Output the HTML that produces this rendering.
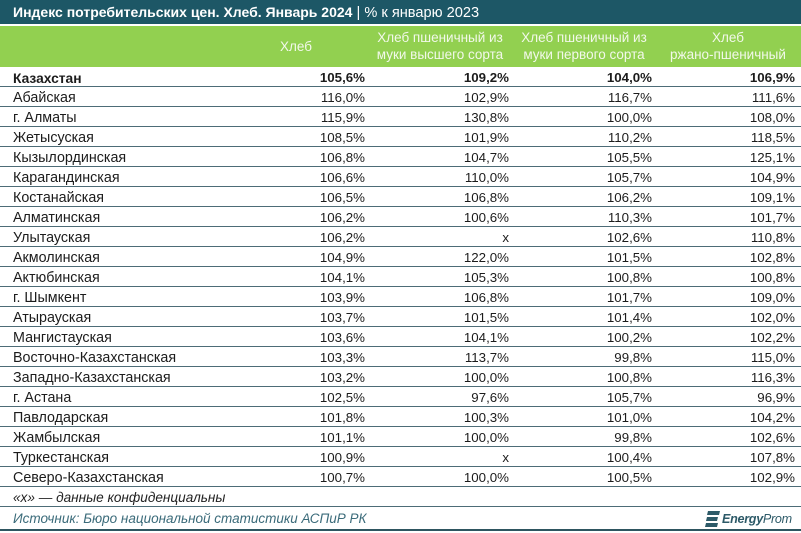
<!DOCTYPE html>
<html><head><meta charset="utf-8">
<style>
*{margin:0;padding:0;box-sizing:border-box}
body{width:801px;height:533px;background:#fff;position:relative;overflow:hidden;font-family:"Liberation Sans","DejaVu Sans",sans-serif;color:#1c1c1c}
.title{position:absolute;left:0;top:0;width:801px;height:24px;background:#1d5766;color:#fff;font-size:14px;line-height:25px;padding-left:13px;white-space:nowrap}
.title b{font-weight:bold}
.title i{font-style:normal;font-size:14.6px}
.hdr{position:absolute;left:0;top:26px;width:801px;height:41px;background:#92d050}
.h{position:absolute;color:#f2f8ea;font-size:13.5px;line-height:17px;text-align:center;white-space:nowrap}
.row{position:absolute;left:0;width:801px;height:20px;border-bottom:1px solid #4d6c77}
.row span{position:absolute;top:1px;line-height:19px;white-space:nowrap}
.row .n{top:2px}
.n{left:13px;font-size:14.3px}
.v{font-size:13.3px;text-align:right;width:100px}
.c1{left:265px}.c2{left:409px}.c3{left:552px}.c4{left:695px}
.bold span{font-weight:bold}
.bold .n{font-size:13.8px}
.foot{position:absolute;left:0;top:487px;width:801px;height:20px;border-bottom:1px solid #4d6c77;font-style:italic;font-size:13.6px;line-height:21px;padding-left:13px;color:#222}
.src{position:absolute;left:0;top:507px;width:801px;height:24px;border-bottom:2px solid #2e5560;font-style:italic;font-size:13.5px;line-height:24px;padding-left:13px;color:#3b6b7a}
.logo{position:absolute;left:703px;top:510px;height:18px;white-space:nowrap}
.logo .t{position:absolute;left:19px;top:0;font-style:italic;font-size:12.6px;line-height:18px;color:#2d5a68;letter-spacing:-0.3px}
</style></head><body>
<div class="title"><b>Индекс потребительских цен. Хлеб. Январь 2024</b><i> | % к январю 2023</i></div>
<div class="hdr"></div>
<div class="h" style="left:224px;width:144px;top:38px;">Хлеб</div>
<div class="h" style="left:368px;width:144px;top:29px;">Хлеб пшеничный из<br>муки высшего сорта</div>
<div class="h" style="left:512px;width:144px;top:29px;">Хлеб пшеничный из<br>муки первого сорта</div>
<div class="h" style="left:656px;width:144px;top:29px;">Хлеб<br>ржано-пшеничный</div>

<div class="row bold" style="top:67px"><span class="n">Казахстан</span><span class="v c1">105,6%</span><span class="v c2">109,2%</span><span class="v c3">104,0%</span><span class="v c4">106,9%</span></div>
<div class="row" style="top:87px"><span class="n">Абайская</span><span class="v c1">116,0%</span><span class="v c2">102,9%</span><span class="v c3">116,7%</span><span class="v c4">111,6%</span></div>
<div class="row" style="top:107px"><span class="n">г. Алматы</span><span class="v c1">115,9%</span><span class="v c2">130,8%</span><span class="v c3">100,0%</span><span class="v c4">108,0%</span></div>
<div class="row" style="top:127px"><span class="n">Жетысуская</span><span class="v c1">108,5%</span><span class="v c2">101,9%</span><span class="v c3">110,2%</span><span class="v c4">118,5%</span></div>
<div class="row" style="top:147px"><span class="n">Кызылординская</span><span class="v c1">106,8%</span><span class="v c2">104,7%</span><span class="v c3">105,5%</span><span class="v c4">125,1%</span></div>
<div class="row" style="top:167px"><span class="n">Карагандинская</span><span class="v c1">106,6%</span><span class="v c2">110,0%</span><span class="v c3">105,7%</span><span class="v c4">104,9%</span></div>
<div class="row" style="top:187px"><span class="n">Костанайская</span><span class="v c1">106,5%</span><span class="v c2">106,8%</span><span class="v c3">106,2%</span><span class="v c4">109,1%</span></div>
<div class="row" style="top:207px"><span class="n">Алматинская</span><span class="v c1">106,2%</span><span class="v c2">100,6%</span><span class="v c3">110,3%</span><span class="v c4">101,7%</span></div>
<div class="row" style="top:227px"><span class="n">Улытауская</span><span class="v c1">106,2%</span><span class="v c2">x</span><span class="v c3">102,6%</span><span class="v c4">110,8%</span></div>
<div class="row" style="top:247px"><span class="n">Акмолинская</span><span class="v c1">104,9%</span><span class="v c2">122,0%</span><span class="v c3">101,5%</span><span class="v c4">102,8%</span></div>
<div class="row" style="top:267px"><span class="n">Актюбинская</span><span class="v c1">104,1%</span><span class="v c2">105,3%</span><span class="v c3">100,8%</span><span class="v c4">100,8%</span></div>
<div class="row" style="top:287px"><span class="n">г. Шымкент</span><span class="v c1">103,9%</span><span class="v c2">106,8%</span><span class="v c3">101,7%</span><span class="v c4">109,0%</span></div>
<div class="row" style="top:307px"><span class="n">Атырауская</span><span class="v c1">103,7%</span><span class="v c2">101,5%</span><span class="v c3">101,4%</span><span class="v c4">102,0%</span></div>
<div class="row" style="top:327px"><span class="n">Мангистауская</span><span class="v c1">103,6%</span><span class="v c2">104,1%</span><span class="v c3">100,2%</span><span class="v c4">102,2%</span></div>
<div class="row" style="top:347px"><span class="n">Восточно-Казахстанская</span><span class="v c1">103,3%</span><span class="v c2">113,7%</span><span class="v c3">99,8%</span><span class="v c4">115,0%</span></div>
<div class="row" style="top:367px"><span class="n">Западно-Казахстанская</span><span class="v c1">103,2%</span><span class="v c2">100,0%</span><span class="v c3">100,8%</span><span class="v c4">116,3%</span></div>
<div class="row" style="top:387px"><span class="n">г. Астана</span><span class="v c1">102,5%</span><span class="v c2">97,6%</span><span class="v c3">105,7%</span><span class="v c4">96,9%</span></div>
<div class="row" style="top:407px"><span class="n">Павлодарская</span><span class="v c1">101,8%</span><span class="v c2">100,3%</span><span class="v c3">101,0%</span><span class="v c4">104,2%</span></div>
<div class="row" style="top:427px"><span class="n">Жамбылская</span><span class="v c1">101,1%</span><span class="v c2">100,0%</span><span class="v c3">99,8%</span><span class="v c4">102,6%</span></div>
<div class="row" style="top:447px"><span class="n">Туркестанская</span><span class="v c1">100,9%</span><span class="v c2">x</span><span class="v c3">100,4%</span><span class="v c4">107,8%</span></div>
<div class="row" style="top:467px"><span class="n">Северо-Казахстанская</span><span class="v c1">100,7%</span><span class="v c2">100,0%</span><span class="v c3">100,5%</span><span class="v c4">102,9%</span></div>

<div class="foot">«x» — данные конфиденциальны</div>
<div class="src">Источник: Бюро национальной статистики АСПиР РК</div>
<div class="logo">
<svg width="20" height="18" viewBox="0 0 20 18" style="position:absolute;left:0;top:0">
<polygon points="5,1 17,1 16,5 4,5" fill="#2d5a68"/>
<polygon points="4,7 15,7 14,11 3,11" fill="#2d5a68"/>
<polygon points="3,13 15,13 14,17 2,17" fill="#2d5a68"/>
</svg>
<span class="t"><b>Energy</b>Prom</span>
</div>
</body></html>
